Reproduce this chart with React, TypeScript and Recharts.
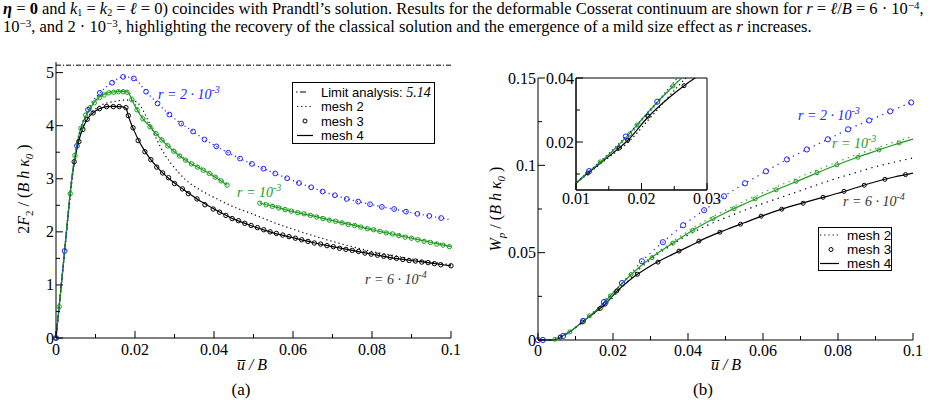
import React from 'react';
import { Line, LineChart, ReferenceArea, ReferenceLine, XAxis, YAxis } from 'recharts';

const SERIF = '"Liberation Serif", "Times New Roman", serif';
const SANS = '"Liberation Sans", Arial, sans-serif';
const BLACK = '#000000';
const GREEN = '#1f9b1f';
const BLUE = '#2222ff';

type Row = [number, number | null];

// ---- panel (a): normalised load 2F2/(B h k0) vs u/B ----
const limitLoad = 5.14;

const blackMesh2A: Row[] = [
  [0, 0], [0.001, 0.74], [0.002, 1.5], [0.003, 2.28], [0.004, 3.0], [0.0048, 3.4], [0.0058, 3.76],
  [0.0068, 3.98], [0.008, 4.16], [0.0095, 4.28], [0.011, 4.37], [0.013, 4.43], [0.015, 4.46],
  [0.017, 4.48], [0.019, 4.48], [0.0205, 4.44], [0.0215, 4.36], [0.0225, 4.22], [0.0238, 4.02],
  [0.025, 3.82], [0.0263, 3.62], [0.0275, 3.46], [0.029, 3.3], [0.031, 3.12], [0.033, 2.97],
  [0.036, 2.81], [0.04, 2.65], [0.045, 2.47], [0.05, 2.33], [0.055, 2.18], [0.06, 2.05],
  [0.065, 1.93], [0.07, 1.82], [0.075, 1.72], [0.08, 1.63], [0.085, 1.56], [0.09, 1.49],
  [0.095, 1.43], [0.1, 1.38],
];

const blackMesh4A: Row[] = [
  [0, 0], [0.001, 0.74], [0.002, 1.5], [0.003, 2.28], [0.004, 3.0], [0.0048, 3.38], [0.0058, 3.72],
  [0.0068, 3.95], [0.008, 4.13], [0.0095, 4.25], [0.011, 4.32], [0.0128, 4.36], [0.0145, 4.365],
  [0.016, 4.36], [0.0172, 4.35], [0.0178, 4.32], [0.0183, 4.19], [0.019, 4.04], [0.0197, 3.92],
  [0.0208, 3.74], [0.0225, 3.52], [0.024, 3.36], [0.0255, 3.23], [0.027, 3.11], [0.0285, 3.01],
  [0.03, 2.92], [0.032, 2.81], [0.0335, 2.73], [0.0357, 2.62], [0.0377, 2.53], [0.04, 2.43],
  [0.0425, 2.33], [0.045, 2.24], [0.0475, 2.17], [0.05, 2.1], [0.055, 1.98], [0.06, 1.89],
  [0.065, 1.8], [0.07, 1.72], [0.075, 1.65], [0.08, 1.58], [0.085, 1.51], [0.09, 1.46],
  [0.095, 1.41], [0.1, 1.36],
];

const blackMesh3A: Row[] = [
  [0, 0], [0.0046, 3.32], [0.0058, 3.7], [0.0068, 3.93], [0.0079, 4.12], [0.0094, 4.24],
  [0.011, 4.32], [0.0128, 4.36], [0.0145, 4.36], [0.016, 4.36], [0.0177, 4.34], [0.0183, 4.19],
  [0.0195, 3.96], [0.0208, 3.72], [0.0225, 3.51], [0.024, 3.36], [0.0255, 3.22], [0.027, 3.11],
  [0.0285, 3.02], [0.03, 2.91], [0.032, 2.81], [0.0335, 2.72], [0.0357, 2.62], [0.0377, 2.51],
  [0.0398, 2.43], [0.0414, 2.37], [0.043, 2.31], [0.0446, 2.25], [0.0462, 2.21], [0.0478, 2.16],
  [0.0494, 2.12], [0.051, 2.08], [0.0526, 2.04], [0.0542, 2.0], [0.0558, 1.97], [0.0574, 1.94],
  [0.059, 1.91], [0.0606, 1.88], [0.0622, 1.85], [0.0638, 1.82], [0.0654, 1.79], [0.067, 1.77],
  [0.0686, 1.74], [0.0702, 1.72], [0.0718, 1.69], [0.0734, 1.67], [0.075, 1.65], [0.0766, 1.63],
  [0.0782, 1.6], [0.0798, 1.58], [0.0814, 1.56], [0.083, 1.54], [0.0846, 1.52], [0.0862, 1.5],
  [0.0878, 1.48], [0.0894, 1.46], [0.091, 1.45], [0.0926, 1.43], [0.0942, 1.42], [0.0958, 1.4],
  [0.0974, 1.38], [0.1, 1.36],
];

const greenMesh2A: Row[] = [
  [0, 0], [0.001, 0.74], [0.002, 1.5], [0.003, 2.28], [0.004, 3.02], [0.0048, 3.45], [0.0058, 3.84],
  [0.0068, 4.08], [0.008, 4.27], [0.0095, 4.44], [0.011, 4.56], [0.0125, 4.62], [0.014, 4.65],
  [0.016, 4.66], [0.018, 4.66], [0.0188, 4.6], [0.0195, 4.5], [0.0205, 4.34], [0.022, 4.17],
  [0.0238, 4.01], [0.0253, 3.88], [0.0268, 3.76], [0.0284, 3.64], [0.03, 3.54], [0.0314, 3.45],
  [0.0334, 3.35], [0.0357, 3.26], [0.0377, 3.17], [0.0398, 3.08], [0.042, 2.98], [0.0435, 2.9],
  [0.047, null],
  [0.0516, 2.57], [0.055, 2.51], [0.06, 2.41], [0.065, 2.32], [0.07, 2.23], [0.075, 2.15],
  [0.08, 2.06], [0.085, 1.98], [0.09, 1.9], [0.095, 1.82], [0.1, 1.74],
];

const greenMesh4A: Row[] = [
  [0, 0], [0.001, 0.74], [0.002, 1.5], [0.003, 2.28], [0.0035, 2.66], [0.004, 3.02], [0.0048, 3.44],
  [0.0058, 3.82], [0.0068, 4.06], [0.008, 4.25], [0.0095, 4.42], [0.011, 4.54], [0.0125, 4.6],
  [0.014, 4.63], [0.016, 4.64], [0.0178, 4.64], [0.0185, 4.6], [0.0192, 4.49], [0.0205, 4.3],
  [0.022, 4.13], [0.0238, 3.98], [0.0253, 3.85], [0.0268, 3.73], [0.0283, 3.62], [0.0298, 3.52],
  [0.0313, 3.43], [0.0328, 3.35], [0.0343, 3.28], [0.0358, 3.22], [0.0373, 3.16], [0.0388, 3.1],
  [0.0403, 3.03], [0.0418, 2.96], [0.0433, 2.88],
  [0.047, null],
  [0.0516, 2.54], [0.055, 2.48], [0.06, 2.38], [0.065, 2.3], [0.07, 2.21], [0.075, 2.13],
  [0.08, 2.04], [0.085, 1.96], [0.09, 1.88], [0.095, 1.8], [0.1, 1.72],
];

const greenMesh3A: Row[] = [
  [0, 0], [0.0008, 0.59], [0.0036, 2.72], [0.0048, 3.44], [0.0063, 3.95], [0.0075, 4.2],
  [0.0085, 4.33], [0.0097, 4.43], [0.011, 4.53], [0.0122, 4.58], [0.0134, 4.62], [0.0146, 4.63],
  [0.0158, 4.64], [0.017, 4.64], [0.018, 4.63], [0.0192, 4.49], [0.0205, 4.3], [0.022, 4.13],
  [0.0238, 3.98], [0.0253, 3.85], [0.0268, 3.73], [0.0283, 3.62], [0.0298, 3.52], [0.0313, 3.43],
  [0.0328, 3.35], [0.0343, 3.28], [0.0358, 3.22], [0.0373, 3.16], [0.0388, 3.1], [0.0403, 3.03],
  [0.0418, 2.96], [0.0433, 2.88],
  [0.0516, 2.54], [0.0532, 2.51], [0.0548, 2.48], [0.0564, 2.45], [0.058, 2.42], [0.0596, 2.39],
  [0.0612, 2.36], [0.0628, 2.34], [0.0644, 2.31], [0.066, 2.28], [0.0676, 2.25], [0.0692, 2.22],
  [0.0708, 2.2], [0.0724, 2.17], [0.074, 2.14], [0.0756, 2.12], [0.0772, 2.09], [0.0788, 2.06],
  [0.0804, 2.04], [0.082, 2.01], [0.0836, 1.98], [0.0852, 1.96], [0.0868, 1.93], [0.0884, 1.9],
  [0.09, 1.88], [0.0916, 1.85], [0.0932, 1.82], [0.0948, 1.8], [0.0964, 1.77], [0.098, 1.75],
  [0.0996, 1.72],
];

const blueMesh2A: Row[] = [
  [0, 0], [0.0022, 1.64], [0.0053, 3.62], [0.0081, 4.3], [0.0111, 4.62], [0.0142, 4.81],
  [0.017, 4.92], [0.0197, 4.89], [0.0228, 4.64], [0.0257, 4.42], [0.0287, 4.21], [0.0317, 4.04],
  [0.0347, 3.89], [0.0376, 3.74], [0.0406, 3.61], [0.0436, 3.49], [0.0466, 3.38], [0.0496, 3.28],
  [0.0525, 3.19], [0.0555, 3.1], [0.0585, 3.01], [0.0615, 2.92], [0.0646, 2.84], [0.0675, 2.76],
  [0.0706, 2.69], [0.0736, 2.62], [0.0765, 2.57], [0.0795, 2.52], [0.0825, 2.47], [0.0856, 2.43],
  [0.0886, 2.38], [0.0915, 2.34], [0.0945, 2.3], [0.0975, 2.26], [0.1, 2.23],
];

const blueMesh3A: Row[] = [
  [0, 0], [0.0022, 1.64], [0.0053, 3.62], [0.0081, 4.3], [0.0111, 4.62], [0.0142, 4.81],
  [0.017, 4.92], [0.0197, 4.89], [0.0228, 4.64], [0.0257, 4.42], [0.0287, 4.21], [0.0317, 4.04],
  [0.0347, 3.89], [0.0376, 3.74], [0.0406, 3.61], [0.0436, 3.49], [0.0466, 3.38], [0.0496, 3.28],
  [0.0525, 3.19], [0.0555, 3.1], [0.0585, 3.01], [0.0615, 2.92], [0.0646, 2.84], [0.0675, 2.76],
  [0.0706, 2.69], [0.0736, 2.62], [0.0765, 2.57], [0.0795, 2.52], [0.0825, 2.47], [0.0856, 2.43],
  [0.0886, 2.38], [0.0915, 2.34], [0.0945, 2.3], [0.0975, 2.26],
];

// ---- panel (b): plastic work Wp/(B h k0) vs u/B ----
const blackMesh2B: Row[] = [
  [0, 0], [0.004, 0], [0.006, 0.0016], [0.0085, 0.0046], [0.012, 0.0104], [0.015, 0.0152],
  [0.018, 0.02], [0.021, 0.0268], [0.024, 0.0338], [0.027, 0.0405], [0.03, 0.046], [0.035, 0.0535],
  [0.04, 0.0601], [0.045, 0.0655], [0.05, 0.07], [0.055, 0.0742], [0.06, 0.0782], [0.065, 0.0818],
  [0.07, 0.0855], [0.075, 0.0893], [0.08, 0.0928], [0.085, 0.096], [0.09, 0.0992], [0.095, 0.1018],
  [0.1, 0.1042],
];

const blackMesh4B: Row[] = [
  [0, 0], [0.004, 0], [0.006, 0.0017], [0.0085, 0.0048], [0.012, 0.0106], [0.015, 0.0155],
  [0.018, 0.0207], [0.021, 0.0278], [0.024, 0.0335], [0.0265, 0.0376], [0.03, 0.0424],
  [0.035, 0.0481], [0.04, 0.0533], [0.045, 0.0586], [0.05, 0.063], [0.055, 0.0671], [0.06, 0.0712],
  [0.065, 0.0749], [0.07, 0.0781], [0.075, 0.0811], [0.08, 0.084], [0.085, 0.0873], [0.09, 0.0906],
  [0.095, 0.0933], [0.1, 0.0955],
];

const blackMesh3B: Row[] = [
  [0.0059, 0.0017], [0.0118, 0.0103], [0.0166, 0.0181], [0.0179, 0.0206], [0.021, 0.0281],
  [0.0265, 0.0376], [0.032, 0.0446], [0.0376, 0.0509], [0.0429, 0.0566], [0.0485, 0.0617],
  [0.054, 0.0663], [0.0595, 0.0709], [0.065, 0.0749], [0.0707, 0.0783], [0.076, 0.0817],
  [0.0816, 0.0851], [0.087, 0.0886], [0.0925, 0.092], [0.098, 0.0947],
];

const greenMesh2B: Row[] = [
  [0, 0], [0.004, 0], [0.006, 0.0017], [0.0085, 0.0047], [0.012, 0.0107], [0.015, 0.0158],
  [0.018, 0.0218], [0.021, 0.0288], [0.025, 0.0378], [0.03, 0.0473], [0.035, 0.055], [0.04, 0.0622],
  [0.045, 0.0687], [0.05, 0.0743], [0.055, 0.0795], [0.06, 0.0844], [0.065, 0.089], [0.07, 0.0935],
  [0.075, 0.0979], [0.08, 0.1021], [0.085, 0.1061], [0.09, 0.1098], [0.095, 0.1133], [0.1, 0.1166],
];

const greenMesh4B: Row[] = [
  [0, 0], [0.004, 0], [0.006, 0.0017], [0.0085, 0.0047], [0.012, 0.0108], [0.015, 0.016],
  [0.018, 0.0222], [0.021, 0.0293], [0.025, 0.0378], [0.03, 0.0468], [0.035, 0.0541], [0.04, 0.0611],
  [0.045, 0.0674], [0.05, 0.0729], [0.055, 0.0779], [0.06, 0.0827], [0.065, 0.0873], [0.07, 0.0917],
  [0.075, 0.0962], [0.08, 0.1005], [0.085, 0.1045], [0.09, 0.1082], [0.095, 0.1118], [0.1, 0.115],
];

const greenMesh3B: Row[] = [
  [0.0045, 0.0004], [0.0085, 0.0046], [0.0137, 0.0138], [0.0182, 0.0225], [0.0193, 0.0253],
  [0.0248, 0.0375], [0.0304, 0.0471], [0.036, 0.0555], [0.0413, 0.0628], [0.0467, 0.0695],
  [0.0523, 0.0752], [0.0579, 0.0808], [0.0635, 0.086], [0.0688, 0.0908], [0.0744, 0.0958],
  [0.0797, 0.1003], [0.0853, 0.1046], [0.0909, 0.1088], [0.0963, 0.1128],
];

const blueMesh2B: Row[] = [
  [0, 0], [0.0013, 0], [0.0067, 0.0023], [0.012, 0.0109], [0.0176, 0.0217], [0.0224, 0.0326],
  [0.0277, 0.0451], [0.0333, 0.056], [0.0387, 0.0657], [0.0443, 0.0743], [0.0496, 0.0823],
  [0.0552, 0.0897], [0.0608, 0.0966], [0.0664, 0.1034], [0.0717, 0.1091], [0.0773, 0.1149],
  [0.0827, 0.1206], [0.0883, 0.1257], [0.0939, 0.1309], [0.0995, 0.136],
];

const blueMesh3B: Row[] = [
  [0, 0], [0.0013, 0], [0.0067, 0.0023], [0.012, 0.0109], [0.0176, 0.0217], [0.0224, 0.0326],
  [0.0277, 0.0451], [0.0333, 0.056], [0.0387, 0.0657], [0.0443, 0.0743], [0.0496, 0.0823],
  [0.0552, 0.0897], [0.0608, 0.0966], [0.0664, 0.1034], [0.0717, 0.1091], [0.0773, 0.1149],
  [0.0827, 0.1206], [0.0883, 0.1257], [0.0939, 0.1309], [0.0995, 0.136],
];

// ---- ticks (empty label = minor tick) ----
const uTicks = [0, 0.01, 0.02, 0.03, 0.04, 0.05, 0.06, 0.07, 0.08, 0.09, 0.1];
const uTickLabels = ['0', '', '0.02', '', '0.04', '', '0.06', '', '0.08', '', '0.1'];
const loadTicks = [0, 0.5, 1, 1.5, 2, 2.5, 3, 3.5, 4, 4.5, 5];
const loadTickLabels = ['0', '', '1', '', '2', '', '3', '', '4', '', '5'];
const workTicks = [0, 0.025, 0.05, 0.075, 0.1, 0.125, 0.15];
const workTickLabels = ['0', '', '0.05', '', '0.1', '', '0.15'];
const insetUTicks = [0.01, 0.015, 0.02, 0.025, 0.03];
const insetUTickLabels = ['0.01', '', '0.02', '', '0.03'];
const insetWorkTicks = [0.01, 0.02, 0.03, 0.04];
const insetWorkTickLabels = ['', '0.02', '', '0.04'];

const toPts = (rows: Row[]) => rows.map(([u, v]) => ({ u, v }));
const labelFor = (ticks: number[], labels: string[], value: number) => {
  const i = ticks.findIndex((t) => Math.abs(t - value) < 1e-9);
  return i >= 0 ? labels[i] : '';
};

// inward ticks: tickSize/tickMargin are 0, so x/y is the axis line itself
const bottomTick = (ticks: number[], labels: string[], dy: number) => (props: any) => {
  const { x, y, payload } = props;
  const label = labelFor(ticks, labels, payload.value);
  return (
    <g>
      <line x1={x} x2={x} y1={y} y2={y - (label ? 7 : 4)} stroke={BLACK} strokeWidth={1} />
      {label && (
        <text x={x} y={y + dy} textAnchor="middle" fontFamily={SERIF} fontSize={16} fill={BLACK}>
          {label}
        </text>
      )}
    </g>
  );
};

const leftTick = (ticks: number[], labels: string[]) => (props: any) => {
  const { x, y, payload } = props;
  const label = labelFor(ticks, labels, payload.value);
  return (
    <g>
      <line x1={x} x2={x + (label ? 7 : 4)} y1={y} y2={y} stroke={BLACK} strokeWidth={1} />
      {label && (
        <text x={x - 2} y={y + 5.5} textAnchor="end" fontFamily={SERIF} fontSize={16} fill={BLACK}>
          {label}
        </text>
      )}
    </g>
  );
};

const axisLine = { stroke: BLACK, strokeWidth: 1 };

const dotted = (rows: Row[], color: string, dash = '1.2 3') => (
  <Line data={toPts(rows)} dataKey="v" type="monotone" stroke={color} strokeWidth={1.2}
    strokeDasharray={dash} dot={false} activeDot={false} isAnimationActive={false} />
);
const solid = (rows: Row[], color: string) => (
  <Line data={toPts(rows)} dataKey="v" type="monotone" stroke={color} strokeWidth={1.2}
    dot={false} activeDot={false} isAnimationActive={false} />
);
const circles = (rows: Row[], color: string, r: number) => (
  <Line data={toPts(rows)} dataKey="v" stroke="none" strokeWidth={0}
    dot={{ r, stroke: color, strokeWidth: 1, fill: 'none' }} activeDot={false} isAnimationActive={false} />
);

const PanelA = () => (
  <LineChart width={480} height={406} margin={{ top: 62, right: 29, bottom: 38, left: 16 }}>
    <XAxis type="number" dataKey="u" domain={[0, 0.1]} ticks={uTicks} interval={0} height={30}
      tickSize={0} tickMargin={0} tickLine={false} axisLine={axisLine}
      tick={bottomTick(uTicks, uTickLabels, 17)} />
    <YAxis type="number" domain={[0, 5.2]} ticks={loadTicks} interval={0} width={40}
      tickSize={0} tickMargin={0} tickLine={false} axisLine={axisLine}
      tick={leftTick(loadTicks, loadTickLabels)} />
    <ReferenceLine y={limitLoad} stroke={BLACK} strokeWidth={1} strokeDasharray="5 2 1 2" />
    {dotted(blackMesh2A, BLACK)}
    {solid(blackMesh4A, BLACK)}
    {circles(blackMesh3A, BLACK, 2.2)}
    {dotted(greenMesh2A, GREEN)}
    {solid(greenMesh4A, GREEN)}
    {circles(greenMesh3A, GREEN, 2.2)}
    {dotted(blueMesh2A, BLUE)}
    {circles(blueMesh3A, BLUE, 2.4)}
  </LineChart>
);

const PanelB = () => (
  <LineChart width={464} height={406} margin={{ top: 78, right: 31, bottom: 36, left: 18 }}>
    <XAxis type="number" dataKey="u" domain={[0, 0.1]} ticks={uTicks} interval={0} height={30}
      tickSize={0} tickMargin={0} tickLine={false} axisLine={axisLine}
      tick={bottomTick(uTicks, uTickLabels, 16)} />
    <YAxis type="number" domain={[0, 0.15]} ticks={workTicks} interval={0} width={40}
      tickSize={0} tickMargin={0} tickLine={false} axisLine={axisLine}
      tick={leftTick(workTicks, workTickLabels)} />
    {dotted(blackMesh2B, BLACK, '1.3 4.5')}
    {solid(blackMesh4B, BLACK)}
    {circles(blackMesh3B, BLACK, 2)}
    {dotted(greenMesh2B, GREEN, '1.3 4.5')}
    {solid(greenMesh4B, GREEN)}
    {circles(greenMesh3B, GREEN, 2)}
    {dotted(blueMesh2B, BLUE, '1.3 4.5')}
    {circles(blueMesh3B, BLUE, 2.6)}
  </LineChart>
);

// zoom of panel (b) near the onset of plastic work
const InsetB = () => (
  <LineChart width={190} height={140} margin={{ top: 8, right: 19, bottom: 0, left: 0 }}>
    <XAxis type="number" dataKey="u" domain={[0.01, 0.03]} allowDataOverflow ticks={insetUTicks}
      interval={0} height={20} tickSize={0} tickMargin={0} tickLine={false} axisLine={axisLine}
      tick={bottomTick(insetUTicks, insetUTickLabels, 14)} />
    <YAxis type="number" domain={[0.005, 0.04]} allowDataOverflow ticks={insetWorkTicks}
      interval={0} width={40} tickSize={0} tickMargin={0} tickLine={false} axisLine={axisLine}
      tick={leftTick(insetWorkTicks, insetWorkTickLabels)} />
    <ReferenceArea x1={0.01} x2={0.03} y1={0.005} y2={0.04} fill="#fff" fillOpacity={1}
      stroke={BLACK} strokeWidth={1} />
    {dotted(blackMesh2B, BLACK, '1.3 3')}
    {solid(blackMesh4B, BLACK)}
    {circles(blackMesh3B, BLACK, 2)}
    {dotted(greenMesh2B, GREEN, '1.3 3')}
    {solid(greenMesh4B, GREEN)}
    {circles(greenMesh3B, GREEN, 2)}
    {dotted(blueMesh2B, BLUE, '1.3 3')}
    {circles(blueMesh3B, BLUE, 2.6)}
  </LineChart>
);

const sub = (s: string, italic = false) => (
  <tspan fontSize={11} dy={4} fontStyle={italic ? 'italic' : 'normal'}>{s}</tspan>
);
const sup = (s: string) => <tspan fontSize={10} dy={-6}>{s}</tspan>;

const CurveLabel = ({ x, y, color, pre, exp }: { x: number; y: number; color: string; pre: string; exp: string }) => (
  <text x={x} y={y} fill={color} fontFamily={SERIF} fontSize={14} fontStyle="italic" style={{ whiteSpace: 'pre' }}>
    {pre}{sup(exp)}
  </text>
);

const HEAD = 16.5;

const Annotations = () => (
  <svg width={944} height={406} style={{ position: 'absolute', left: 0, top: 0, pointerEvents: 'none' }}>
    {/* caption text above the figure */}
    <text x={3} y={14} fontFamily={SERIF} fontSize={HEAD} fill={BLACK} style={{ whiteSpace: 'pre' }}>
      <tspan fontWeight="bold" fontStyle="italic">η</tspan>{' = '}<tspan fontWeight="bold">0</tspan>
      {' and '}<tspan fontStyle="italic">k</tspan><tspan fontSize={10} dy={2}>1</tspan><tspan dy={-2}>{' = '}</tspan>
      <tspan fontStyle="italic">k</tspan><tspan fontSize={10} dy={2}>2</tspan><tspan dy={-2}>{' = '}</tspan>
      <tspan fontStyle="italic">ℓ</tspan>
      {' = 0) coincides with Prandtl’s solution. Results for the deformable Cosserat continuum are shown for '}
      <tspan fontStyle="italic">r</tspan>{' = '}<tspan fontStyle="italic">ℓ</tspan>/<tspan fontStyle="italic">B</tspan>
      {' = 6 · 10'}<tspan fontSize={11} dy={-5}>−4</tspan><tspan dy={5}>,</tspan>
    </text>
    <text x={3} y={32} fontFamily={SERIF} fontSize={HEAD} fill={BLACK} style={{ whiteSpace: 'pre' }}>
      {'10'}<tspan fontSize={11} dy={-5}>−3</tspan><tspan dy={5}>{', and 2 · 10'}</tspan>
      <tspan fontSize={11} dy={-5}>−3</tspan>
      <tspan dy={5}>{', highlighting the recovery of the classical solution and the emergence of a mild size effect as '}</tspan>
      <tspan fontStyle="italic">r</tspan>{' increases.'}
    </text>

    {/* axis titles */}
    <text x={29} y={189} transform="rotate(-90 29 189)" textAnchor="middle" fontFamily={SERIF} fontSize={16}
      fill={BLACK} style={{ whiteSpace: 'pre' }}>
      2<tspan fontStyle="italic">F</tspan>{sub('2')}<tspan dy={-4}>{' / ('}</tspan>
      <tspan fontStyle="italic">{'B h κ'}</tspan>{sub('0', true)}<tspan dy={-4}>{' )'}</tspan>
    </text>
    <text x={501} y={209} transform="rotate(-90 501 209)" textAnchor="middle" fontFamily={SERIF} fontSize={16}
      fill={BLACK} style={{ whiteSpace: 'pre' }}>
      <tspan fontStyle="italic">W</tspan>{sub('p', true)}<tspan dy={-4}>{' / ('}</tspan>
      <tspan fontStyle="italic">{'B h κ'}</tspan>{sub('0', true)}<tspan dy={-4}>{' )'}</tspan>
    </text>
    <text x={252} y={370} textAnchor="middle" fontFamily={SERIF} fontSize={16} fontStyle="italic" fill={BLACK}
      style={{ whiteSpace: 'pre' }}>{'u\u0305 / B'}</text>
    <text x={726} y={370} textAnchor="middle" fontFamily={SERIF} fontSize={16} fontStyle="italic" fill={BLACK}
      style={{ whiteSpace: 'pre' }}>{'u\u0305 / B'}</text>
    <text x={241} y={395} textAnchor="middle" fontFamily={SERIF} fontSize={17} fill={BLACK}>(a)</text>
    <text x={703} y={395} textAnchor="middle" fontFamily={SERIF} fontSize={17} fill={BLACK}>(b)</text>

    {/* curve labels */}
    <CurveLabel x={158} y={99} color={BLUE} pre="r = 2 · 10" exp="-3" />
    <CurveLabel x={237} y={197} color={GREEN} pre="r = 10" exp="-3" />
    <CurveLabel x={365} y={284} color="#333" pre="r = 6 · 10" exp="-4" />
    <CurveLabel x={798} y={120} color={BLUE} pre="r = 2 · 10" exp="-3" />
    <CurveLabel x={832} y={148} color={GREEN} pre="r = 10" exp="-3" />
    <CurveLabel x={843} y={206} color="#333" pre="r = 6 · 10" exp="-4" />

    {/* legend, panel (a) */}
    <rect x={292.5} y={82.5} width={142} height={61} fill="#fff" stroke={BLACK} strokeWidth={1} />
    <line x1={296} x2={313} y1={92} y2={92} stroke={BLACK} strokeDasharray="1.5 2.5 6 20" />
    <text x={321} y={96.5} fontFamily={SANS} fontSize={13} fill={BLACK} style={{ whiteSpace: 'pre' }}>
      {'Limit analysis: '}<tspan fontFamily={SERIF} fontStyle="italic" fontSize={14}>5.14</tspan>
    </text>
    <line x1={297} x2={313} y1={106.5} y2={106.5} stroke={BLACK} strokeDasharray="1.2 3" />
    <text x={321} y={111} fontFamily={SANS} fontSize={13} fill={BLACK}>mesh 2</text>
    <circle cx={305} cy={121} r={2} fill="none" stroke={BLACK} />
    <text x={321} y={125.5} fontFamily={SANS} fontSize={13} fill={BLACK}>mesh 3</text>
    <line x1={297} x2={313} y1={135.5} y2={135.5} stroke={BLACK} strokeWidth={1.2} />
    <text x={321} y={140} fontFamily={SANS} fontSize={13} fill={BLACK}>mesh 4</text>

    {/* legend, panel (b) */}
    <rect x={818.5} y={227.5} width={73} height={43} fill="#fff" stroke={BLACK} strokeWidth={1} />
    <line x1={820} x2={839} y1={235} y2={235} stroke={BLACK} strokeDasharray="1.2 3" />
    <text x={847} y={239.5} fontFamily={SANS} fontSize={13.5} fill={BLACK}>mesh 2</text>
    <circle cx={831} cy={249.5} r={2} fill="none" stroke={BLACK} />
    <text x={847} y={254} fontFamily={SANS} fontSize={13.5} fill={BLACK}>mesh 3</text>
    <line x1={820} x2={839} y1={263.5} y2={263.5} stroke={BLACK} strokeWidth={1.2} />
    <text x={847} y={268} fontFamily={SANS} fontSize={13.5} fill={BLACK}>mesh 4</text>
  </svg>
);

export default function App() {
  return (
    <div style={{ position: 'absolute', left: 0, top: 0, width: 944, height: 406, background: '#fff', overflow: 'hidden' }}>
      <div style={{ position: 'absolute', left: 0, top: 0 }}>
        <PanelA />
      </div>
      <div style={{ position: 'absolute', left: 480, top: 0 }}>
        <PanelB />
      </div>
      <div style={{ position: 'absolute', left: 536, top: 70 }}>
        <InsetB />
      </div>
      <Annotations />
    </div>
  );
}
